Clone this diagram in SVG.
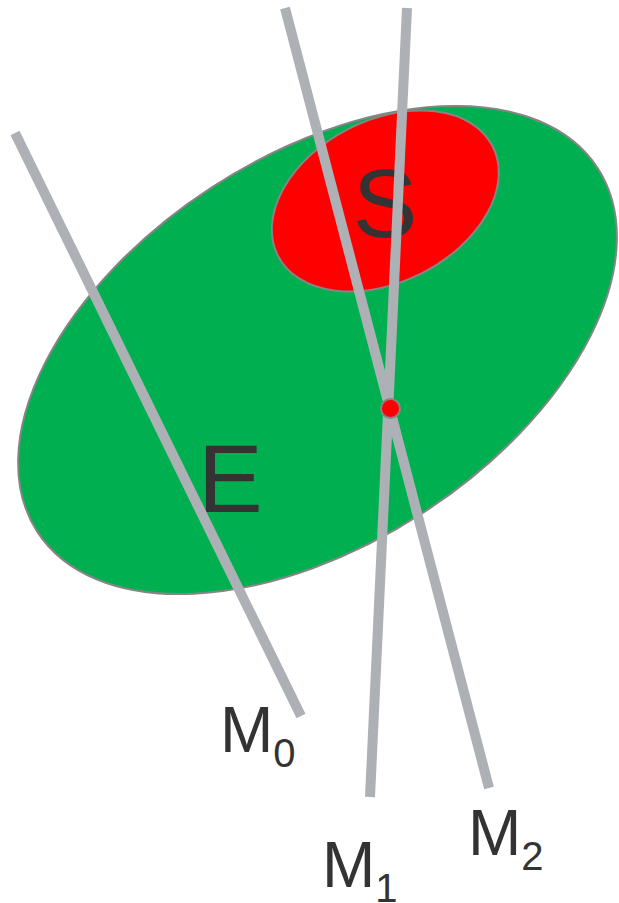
<svg xmlns="http://www.w3.org/2000/svg" width="619" height="903" viewBox="0 0 619 903">
<style>
.reg{stroke:#858585;stroke-width:2}
.big{font-family:"Liberation Sans",Arial,sans-serif;font-size:97px;fill:#333333}
.lab{font-family:"Liberation Sans",Arial,sans-serif;font-size:64px;fill:#333333}
.sub{font-size:40px}
.ln{stroke:#adb1b5;stroke-width:10;stroke-linecap:butt;fill:none}
</style>
<rect width="619" height="903" fill="#ffffff"/>
<g id="E">
<ellipse class="reg" cx="317.5" cy="350" rx="334" ry="194" fill="#00b050" transform="rotate(-33 317.5 350)"/>
<text class="big" x="198" y="512">E</text>
</g>
<g id="S">
<ellipse class="reg" cx="385.3" cy="201" rx="120.5" ry="81" fill="#ff0000" transform="rotate(-27 385.3 201)"/>
<text class="big" x="385" y="237" text-anchor="middle">S</text>
</g>
<g id="connectors">
<line id="M0line" class="ln" x1="15" y1="133" x2="301" y2="716"/>
<line id="M1line" class="ln" x1="407" y1="8" x2="370" y2="797"/>
<line id="M2line" class="ln" x1="285" y1="8" x2="489" y2="788"/>
</g>
<g id="P">
<circle cx="390.5" cy="408.5" r="9.5" fill="#ff0000" stroke="#858585" stroke-width="2"/>
</g>
<g id="M0"><text class="lab" x="220" y="752">M<tspan class="sub" dy="15">0</tspan></text></g>
<g id="M1"><text class="lab" x="322" y="887">M<tspan class="sub" dy="15">1</tspan></text></g>
<g id="M2"><text class="lab" x="468" y="855">M<tspan class="sub" dy="15">2</tspan></text></g>
</svg>
